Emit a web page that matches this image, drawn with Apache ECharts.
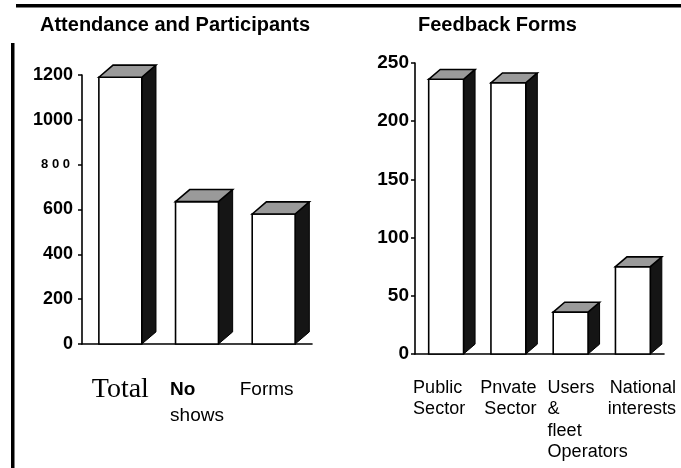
<!DOCTYPE html>
<html>
<head>
<meta charset="utf-8">
<script src="https://cdn.jsdelivr.net/npm/echarts@6/dist/echarts.min.js"></script>
<style>html,body{margin:0;padding:0;background:#fff;}#c{width:681px;height:468px;}</style>
</head>
<body>
<div id="c"></div>
<script>
// ---- data ----
const attendanceTitle = 'Attendance and Participants';
const attendanceCategories = ['Total', 'No\nshows', 'Forms'];
const attendanceValues = [1190, 635, 580];
const attendanceTicks = [0, 200, 400, 600, 800, 1000, 1200];

const feedbackTitle = 'Feedback Forms';
const feedbackCategories = ['Public\nSector', 'Pnvate\nSector', 'Users\n&\nfleet\nOperators', 'National\ninterests'];
const feedbackValues = [236, 233, 36, 75];
const feedbackTicks = [0, 50, 100, 150, 200, 250];

// ---- rendering ----
const FONT = 'Liberation Sans, Arial, sans-serif';

function bar3D(params, api) {
  const idx = api.value(0), v = api.value(1);
  const top = api.coord([idx, v]);
  const base = api.coord([idx, 0]);
  const bw = api.size([1, 0])[0];
  const fw = bw * 0.56, dx = bw * 0.185, dy = bw * 0.158;
  const x0 = top[0] - fw / 2, x1 = top[0] + fw / 2, yT = top[1], yB = base[1];
  return {
    type: 'group',
    children: [
      { type: 'polygon', shape: { points: [[x1, yT], [x1 + dx, yT - dy], [x1 + dx, yB - dy], [x1, yB]] },
        style: { fill: '#151515', stroke: '#000', lineWidth: 1 } },
      { type: 'rect', shape: { x: x0, y: yT, width: fw, height: yB - yT },
        style: { fill: '#fff', stroke: '#000', lineWidth: 1.6 } },
      { type: 'polygon', shape: { points: [[x0, yT], [x0 + dx, yT - dy], [x1 + dx, yT - dy], [x1, yT]] },
        style: { fill: '#9a9a9a', stroke: '#000', lineWidth: 1.6 } }
    ]
  };
}

const leftStyles = [['serif'], ['bold', 'reg'], ['regF']];
const rightStyles = [['r1', 'r1'], ['r2', 'r2'], ['r3', 'r3', 'r3', 'r3'], ['r4', 'r4']];

function richLabel(styles) {
  return function (val, i) {
    return val.split('\n').map((ln, k) => '{' + styles[i][k] + '|' + ln + '}').join('\n');
  };
}

const axisLineStyle = { color: '#000', width: 1.6 };

const option = {
  backgroundColor: '#fff',
  animation: false,
  title: [
    { text: attendanceTitle, left: 40, top: 15, padding: 0,
      textStyle: { fontFamily: FONT, fontSize: 20, fontWeight: 'bold', color: '#000' } },
    { text: feedbackTitle, left: 418, top: 15, padding: 0,
      textStyle: { fontFamily: FONT, fontSize: 20, fontWeight: 'bold', color: '#000' } }
  ],
  graphic: [
    { type: 'rect', shape: { x: 16, y: 4, width: 665, height: 3.5 }, style: { fill: '#000' } },
    { type: 'rect', shape: { x: 11, y: 43, width: 3.5, height: 425 }, style: { fill: '#000' } }
  ],
  grid: [
    { left: 82, top: 75, width: 230, height: 269 },
    { left: 415, top: 63, width: 249, height: 291 }
  ],
  xAxis: [
    { type: 'category', gridIndex: 0, data: attendanceCategories,
      axisLine: { lineStyle: axisLineStyle },
      axisTick: { length: 3, lineStyle: { color: '#000', width: 1.5 } },
      axisLabel: {
        interval: 0, margin: 33, color: '#000',
        formatter: richLabel(leftStyles),
        rich: {
          serif: { fontFamily: 'Liberation Serif, Times New Roman, serif', fontSize: 28, lineHeight: 26, color: '#000' },
          bold: { fontFamily: FONT, fontWeight: 'bold', fontSize: 19, lineHeight: 26, align: 'left', color: '#000' },
          reg: { fontFamily: FONT, fontSize: 19, lineHeight: 26, color: '#000' },
          regF: { fontFamily: FONT, fontSize: 19, lineHeight: 26, padding: [0, 14, 0, 0], color: '#000' }
        }
      }
    },
    { type: 'category', gridIndex: 1, data: feedbackCategories,
      axisLine: { lineStyle: axisLineStyle },
      axisTick: { length: 3, lineStyle: { color: '#000', width: 1.5 } },
      axisLabel: {
        interval: 0, margin: 23, color: '#000',
        formatter: richLabel(rightStyles),
        rich: {
          r1: { fontFamily: FONT, fontSize: 18, lineHeight: 21.5, align: 'left', padding: [0, 14, 0, 0], color: '#000' },
          r2: { fontFamily: FONT, fontSize: 18, lineHeight: 21.5, align: 'right', color: '#000' },
          r3: { fontFamily: FONT, fontSize: 18, lineHeight: 21.5, align: 'left', padding: [0, 0, 0, 34], color: '#000' },
          r4: { fontFamily: FONT, fontSize: 18, lineHeight: 21.5, align: 'right', padding: [0, 0, 0, 18], color: '#000' }
        }
      }
    }
  ],
  yAxis: [
    { type: 'value', gridIndex: 0, min: attendanceTicks[0], max: attendanceTicks[attendanceTicks.length - 1],
      interval: attendanceTicks[1] - attendanceTicks[0],
      splitLine: { show: false },
      axisLine: { show: true, lineStyle: axisLineStyle },
      axisTick: { show: true, length: 4, lineStyle: { color: '#000', width: 1.5 } },
      axisLabel: {
        margin: 9, color: '#000', fontFamily: FONT, fontSize: 18, fontWeight: 'bold',
        formatter: v => v === 800 ? '{s|8 0 0}' : String(v),
        rich: { s: { fontFamily: FONT, fontSize: 13, fontWeight: 'bold', color: '#000', padding: [0, 3, 0, 0] } }
      }
    },
    { type: 'value', gridIndex: 1, min: feedbackTicks[0], max: feedbackTicks[feedbackTicks.length - 1],
      interval: feedbackTicks[1] - feedbackTicks[0],
      splitLine: { show: false },
      axisLine: { show: true, lineStyle: axisLineStyle },
      axisTick: { show: true, length: 4, lineStyle: { color: '#000', width: 1.5 } },
      axisLabel: { margin: 6, color: '#000', fontFamily: FONT, fontSize: 19, fontWeight: 'bold' }
    }
  ],
  series: [
    { type: 'custom', xAxisIndex: 0, yAxisIndex: 0, renderItem: bar3D,
      encode: { x: 0, y: 1 }, data: attendanceValues.map((v, i) => [i, v]) },
    { type: 'custom', xAxisIndex: 1, yAxisIndex: 1, renderItem: bar3D,
      encode: { x: 0, y: 1 }, data: feedbackValues.map((v, i) => [i, v]) }
  ]
};

const chart = echarts.init(document.getElementById('c'), null, { renderer: 'canvas' });
chart.setOption(option);
</script>
</body>
</html>
